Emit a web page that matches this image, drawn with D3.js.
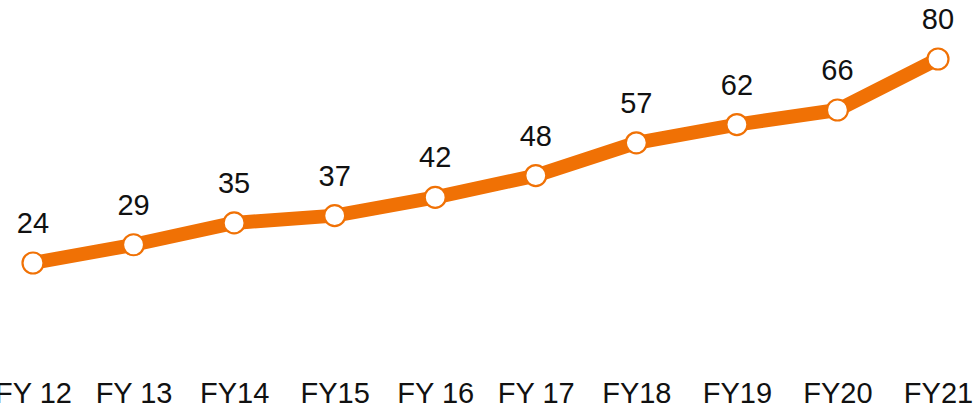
<!DOCTYPE html>
<html>
<head>
<meta charset="utf-8">
<script src="https://cdn.jsdelivr.net/npm/d3@7"></script>
<style>
  body { margin: 0; background: #fff; }
  text { font-family: "Liberation Sans", Arial, sans-serif; fill: #111; }
</style>
</head>
<body>
<div class="chart"></div>
<script>
// chart data
var categories = ["FY 12", "FY 13", "FY14", "FY15", "FY 16", "FY 17", "FY18", "FY19", "FY20", "FY21"];
var values = [24, 29, 35, 37, 42, 48, 57, 62, 66, 80];

var svgWidth = 980;
var svgHeight = 408;
var orange = "#f07105";

var svg = d3.select(".chart")
  .append("svg")
  .attr("width", svgWidth)
  .attr("height", svgHeight);

// point scale for the fiscal years
var xScale = d3.scalePoint()
  .domain(categories)
  .range([33, 938]);

var yScale = d3.scaleLinear()
  .domain([0, 80])
  .range([350.4, 59]);

var data = categories.map((c, i) => ({ cat: c, val: values[i] }));

// x axis labels, no line or ticks
var xAxis = svg.append("g")
  .attr("transform", "translate(0, 403)")
  .call(d3.axisBottom(xScale).tickSize(0).tickPadding(0));
xAxis.select(".domain").remove();
xAxis.selectAll("text")
  .attr("dy", 0)
  .attr("y", 0)
  .style("font-size", "29px")
  .style("font-family", "'Liberation Sans', Arial, sans-serif")
  .attr("fill", "#111");

// the line
var line = d3.line()
  .x(d => xScale(d.cat))
  .y(d => yScale(d.val));

svg.append("path")
  .datum(data)
  .attr("d", line)
  .attr("fill", "none")
  .attr("stroke", orange)
  .attr("stroke-width", 14)
  .attr("stroke-linejoin", "round");

// markers
svg.selectAll("circle")
  .data(data)
  .enter()
  .append("circle")
  .attr("cx", d => xScale(d.cat))
  .attr("cy", d => yScale(d.val))
  .attr("r", 10.5)
  .attr("fill", "#fff")
  .attr("stroke", orange)
  .attr("stroke-width", 2.2);

// value labels
svg.selectAll(".val-label")
  .data(data)
  .enter()
  .append("text")
  .attr("class", "val-label")
  .attr("x", d => xScale(d.cat))
  .attr("y", d => yScale(d.val) - 30)
  .attr("text-anchor", "middle")
  .style("font-size", "29px")
  .text(d => d.val);
</script>
</body>
</html>
